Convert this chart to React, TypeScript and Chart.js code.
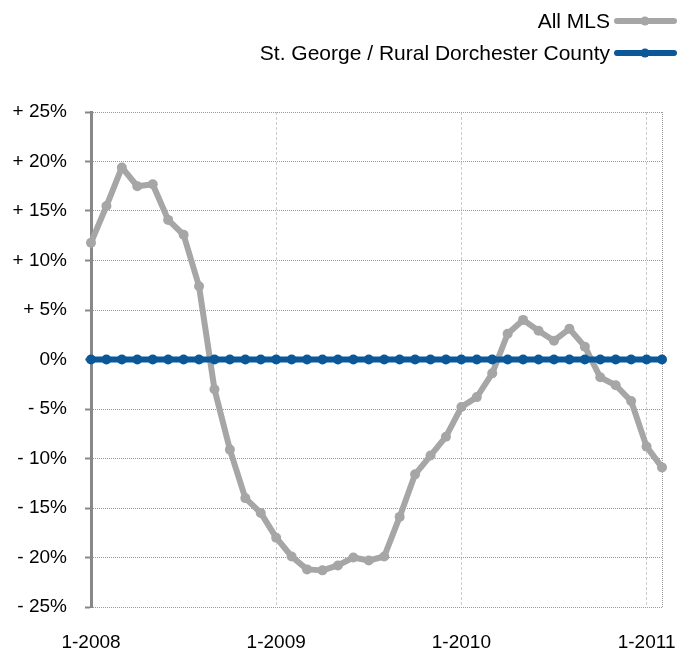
import React, { useEffect, useRef } from "react";
import { Chart, registerables } from "chart.js";

Chart.register(...registerables);

const years = [2008, 2009, 2010, 2011];
const monthLabels: string[] = [];
for (const y of years) {
  for (let m = 1; m <= 12; m++) {
    if (y === 2011 && m > 2) break;
    monthLabels.push(`${m}-${y}`);
  }
}

const allMlsLabel = "All MLS";
const allMls = [
  11.8, 15.5, 19.4, 17.5, 17.7, 14.1, 12.6, 7.4, -3.0, -9.1, -14.0, -15.5,
  -18.0, -19.9, -21.2, -21.3, -20.8, -20.0, -20.3, -19.9, -15.9, -11.6, -9.7, -7.8,
  -4.8, -3.8, -1.4, 2.6, 4.0, 2.9, 1.9, 3.1, 1.3, -1.8, -2.6, -4.2,
  -8.8, -10.9,
];

const stGeorgeLabel = "St. George / Rural Dorchester County";
const stGeorge = [
  0, 0, 0, 0, 0, 0, 0, 0, 0, 0, 0, 0,
  0, 0, 0, 0, 0, 0, 0, 0, 0, 0, 0, 0,
  0, 0, 0, 0, 0, 0, 0, 0, 0, 0, 0, 0,
  0, 0,
];

const GRAY = "#a6a6a6";
const BLUE = "#0b5898";
const FONT = '"Liberation Sans", Arial, Helvetica, sans-serif';

const legendPlugin = {
  id: "customLegend",
  afterDraw(chart: any) {
    const ctx = chart.ctx as CanvasRenderingContext2D;
    const items = [
      { text: chart.data.datasets[1].label, color: chart.data.datasets[1].borderColor, y: 21 },
      { text: chart.data.datasets[0].label, color: chart.data.datasets[0].borderColor, y: 53 },
    ];
    ctx.save();
    ctx.font = `21px ${FONT}`;
    ctx.textAlign = "right";
    ctx.textBaseline = "middle";
    for (const it of items) {
      ctx.fillStyle = "#000";
      ctx.fillText(it.text, 610, it.y + 1);
      ctx.strokeStyle = it.color;
      ctx.lineWidth = 6;
      ctx.lineCap = "round";
      ctx.beginPath();
      ctx.moveTo(617, it.y);
      ctx.lineTo(674, it.y);
      ctx.stroke();
      ctx.fillStyle = it.color;
      ctx.beginPath();
      ctx.arc(645, it.y, 4.5, 0, Math.PI * 2);
      ctx.fill();
    }
    ctx.restore();
  },
};

export default function App() {
  const ref = useRef<HTMLCanvasElement | null>(null);

  useEffect(() => {
    if (!ref.current) return;
    const chart = new Chart(ref.current, {
      type: "line",
      data: {
        labels: monthLabels,
        datasets: [
          {
            label: stGeorgeLabel,
            data: stGeorge,
            borderColor: BLUE,
            backgroundColor: BLUE,
            pointBackgroundColor: BLUE,
            borderWidth: 6,
            pointRadius: 5,
            pointBorderWidth: 0,
            tension: 0,
            order: 0,
          },
          {
            label: allMlsLabel,
            data: allMls,
            borderColor: GRAY,
            backgroundColor: GRAY,
            pointBackgroundColor: GRAY,
            borderWidth: 6,
            pointRadius: 5,
            pointBorderWidth: 0,
            tension: 0,
            borderJoinStyle: "round",
            order: 1,
          },
        ],
      },
      options: {
        animation: false,
        responsive: true,
        maintainAspectRatio: false,
        layout: { padding: { top: 112, right: 22, left: 0, bottom: 0 } },
        plugins: {
          legend: { display: false },
          tooltip: { enabled: false },
        },
        scales: {
          x: {
            type: "category",
            offset: false,
            ticks: {
              autoSkip: false,
              maxRotation: 0,
              minRotation: 0,
              color: "#000",
              padding: 22,
              font: { family: FONT, size: 19, lineHeight: 1.4 },
              callback: (_v: any, i: number) => (i % 12 === 0 ? monthLabels[i] : ""),
            },
            grid: {
              drawTicks: false,
              lineWidth: 1,
              color: (c: any) =>
                c.index === 12 || c.index === 24 || c.index === 36
                  ? "#cccccc"
                  : c.index === monthLabels.length - 1
                  ? "#999999"
                  : "rgba(0,0,0,0)",
            },
            border: {
              display: false,
              dash: (c: any) => (c.index === monthLabels.length - 1 ? [1, 1] : [3, 2]),
            },
            afterFit: (s: any) => {
              s.height = 41;
            },
          },
          y: {
            min: -25,
            max: 25,
            ticks: {
              stepSize: 5,
              color: "#000",
              padding: 18,
              font: { family: FONT, size: 19 },
              callback: (v: any) => {
                const n = Number(v);
                if (n > 0) return `+ ${n}%`;
                if (n < 0) return `- ${Math.abs(n)}%`;
                return "0%";
              },
            },
            grid: {
              color: "#999999",
              lineWidth: 1,
              tickLength: 6,
              tickColor: "#888888",
              tickWidth: 2,
              tickBorderDash: [],
            },
            border: {
              display: true,
              color: "#888888",
              width: 3,
              dash: [1, 1],
            },
            afterFit: (s: any) => {
              s.width = 91;
            },
          },
        },
      },
      plugins: [legendPlugin],
    });
    return () => chart.destroy();
  }, []);

  return (
    <div style={{ position: "fixed", left: 0, top: 0, width: 684, height: 648, background: "#fff" }}>
      <canvas ref={ref} />
    </div>
  );
}
